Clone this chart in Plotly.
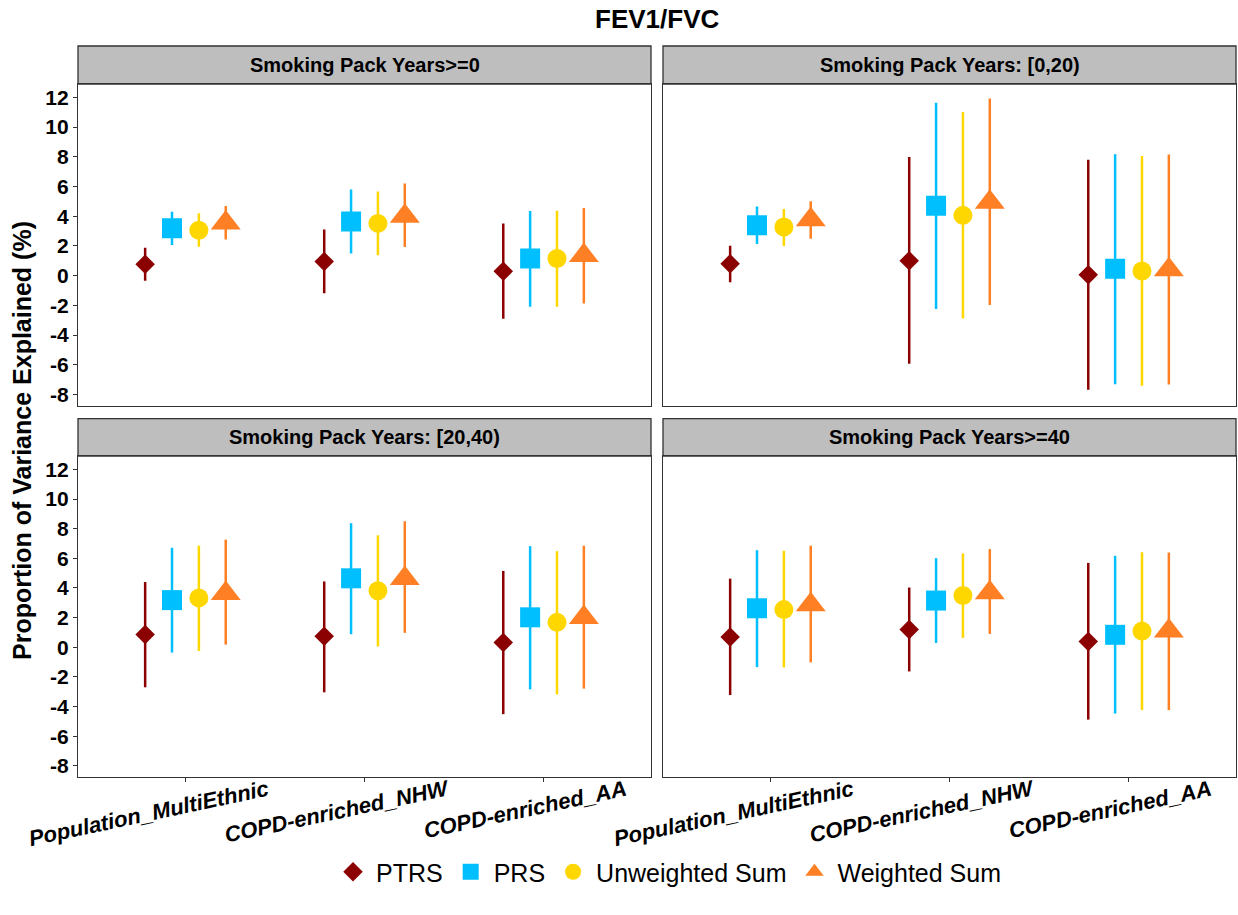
import plotly.graph_objects as go

# ---------------- data ----------------
categories = ["Population_MultiEthnic", "COPD-enriched_NHW", "COPD-enriched_AA"]
panels = ["Smoking Pack Years>=0", "Smoking Pack Years: [0,20)",
          "Smoking Pack Years: [20,40)", "Smoking Pack Years>=40"]
methods = ["PTRS", "PRS", "Unweighted Sum", "Weighted Sum"]

# estimates / lower / upper, per panel, per method, per category
p0_est = {"PTRS": [0.77, 0.95, 0.29], "PRS": [3.20, 3.65, 1.16],
          "Unweighted Sum": [3.06, 3.52, 1.16], "Weighted Sum": [3.54, 4.00, 1.35]}
p0_lo = {"PTRS": [-0.34, -1.18, -2.90], "PRS": [2.06, 1.50, -2.09],
         "Unweighted Sum": [1.95, 1.38, -2.09], "Weighted Sum": [2.43, 1.93, -1.88]}
p0_hi = {"PTRS": [1.88, 3.11, 3.52], "PRS": [4.31, 5.80, 4.35],
         "Unweighted Sum": [4.20, 5.67, 4.37], "Weighted Sum": [4.69, 6.21, 4.56]}

p1_est = {"PTRS": [0.80, 1.00, 0.07], "PRS": [3.40, 4.71, 0.46],
          "Unweighted Sum": [3.27, 4.06, 0.32], "Weighted Sum": [3.76, 4.94, 0.40]}
p1_lo = {"PTRS": [-0.45, -5.92, -7.67], "PRS": [2.13, -2.24, -7.30],
         "Unweighted Sum": [1.99, -2.88, -7.41], "Weighted Sum": [2.49, -1.97, -7.33]}
p1_hi = {"PTRS": [2.02, 7.98, 7.80], "PRS": [4.65, 11.63, 8.18],
         "Unweighted Sum": [4.49, 11.02, 8.05], "Weighted Sum": [5.01, 11.93, 8.16]}

p2_est = {"PTRS": [0.86, 0.75, 0.32], "PRS": [3.18, 4.65, 2.02],
          "Unweighted Sum": [3.33, 3.81, 1.68], "Weighted Sum": [3.62, 4.64, 2.00]}
p2_lo = {"PTRS": [-2.70, -3.04, -4.51], "PRS": [-0.36, 0.88, -2.84],
         "Unweighted Sum": [-0.25, 0.05, -3.18], "Weighted Sum": [0.18, 0.97, -2.79]}
p2_hi = {"PTRS": [4.40, 4.44, 5.15], "PRS": [6.71, 8.37, 6.82],
         "Unweighted Sum": [6.85, 7.55, 6.48], "Weighted Sum": [7.26, 8.50, 6.85]}

p3_est = {"PTRS": [0.70, 1.20, 0.39], "PRS": [2.63, 3.15, 0.84],
          "Unweighted Sum": [2.54, 3.49, 1.09], "Weighted Sum": [2.86, 3.68, 1.10]}
p3_lo = {"PTRS": [-3.22, -1.63, -4.88], "PRS": [-1.34, 0.29, -4.47],
         "Unweighted Sum": [-1.36, 0.63, -4.24], "Weighted Sum": [-1.02, 0.90, -4.24]}
p3_hi = {"PTRS": [4.63, 4.03, 5.69], "PRS": [6.55, 6.01, 6.17],
         "Unweighted Sum": [6.51, 6.33, 6.41], "Weighted Sum": [6.85, 6.62, 6.39]}

panel_est = [p0_est, p1_est, p2_est, p3_est]
panel_lo = [p0_lo, p1_lo, p2_lo, p3_lo]
panel_hi = [p0_hi, p1_hi, p2_hi, p3_hi]

y_tick_vals = [-8, -6, -4, -2, 0, 2, 4, 6, 8, 10, 12]
y_tick_text = ["-8", "-6", "-4", "-2", "0", "2", "4", "6", "8", "10", "12"]

# ---------------- styles ----------------
colors = {"PTRS": "#8B0000", "PRS": "#00BFFF", "Unweighted Sum": "#FFD700", "Weighted Sum": "#FF7F24"}
symbols = {"PTRS": "diamond", "PRS": "square", "Unweighted Sum": "circle", "Weighted Sum": "triangle-up"}
sizes = {"PTRS": 15, "PRS": 20, "Unweighted Sum": 19, "Weighted Sum": 26}

W, H = 1238, 915
FONT = "Liberation Sans, Arial, sans-serif"

def px_x(p):
    return p / W

def px_y(p):
    return 1 - p / H

xdom = [[px_x(78), px_x(651)], [px_x(663), px_x(1236)], [px_x(78), px_x(651)], [px_x(663), px_x(1236)]]
ydom = [[px_y(405.7), px_y(84)], [px_y(405.7), px_y(84)], [px_y(777), px_y(456)], [px_y(777), px_y(456)]]
strip_y = [[px_y(84), px_y(46)], [px_y(84), px_y(46)], [px_y(456), px_y(418.7)], [px_y(456), px_y(418.7)]]

fig = go.Figure()

for i in range(4):
    ax = "" if i == 0 else str(i + 1)
    for m in methods:
        est = panel_est[i][m]
        lo = panel_lo[i][m]
        hi = panel_hi[i][m]
        fig.add_trace(go.Scatter(
            x=categories, y=est, mode="markers",
            name=m, legendgroup=m, showlegend=(i == 0),
            offsetgroup=m,
            xaxis="x" + ax, yaxis="y" + ax,
            marker=dict(symbol=symbols[m], size=sizes[m], color=colors[m], line=dict(width=0)),
            error_y=dict(type="data", symmetric=False,
                         array=[h - e for h, e in zip(hi, est)],
                         arrayminus=[e - l for e, l in zip(est, lo)],
                         color=colors[m], thickness=2.5, width=0),
        ))

layout = dict(
    width=W, height=H, autosize=False,
    margin=dict(l=0, r=0, t=0, b=0, autoexpand=False),
    paper_bgcolor="white", plot_bgcolor="white",
    scattermode="group", scattergap=0.4,
    font=dict(family=FONT, color="black"),
    showlegend=True,
    legend=dict(orientation="h", x=px_x(668), xanchor="center", y=px_y(872), yanchor="middle",
                font=dict(family=FONT, size=25, color="black"), itemsizing="trace",
                itemwidth=36, bgcolor="rgba(0,0,0,0)"),
)

for i in range(4):
    ax = "" if i == 0 else str(i + 1)
    bottom = i >= 2
    left = i in (0, 2)
    layout["xaxis" + ax] = dict(
        domain=xdom[i], anchor="y" + ax, type="category",
        categoryorder="array", categoryarray=categories,
        range=[-0.6, 2.6], showgrid=False, zeroline=False, automargin=False,
        showline=True, mirror=True, linecolor="#333333", linewidth=1.3,
        ticks="outside" if bottom else "", ticklen=4, tickcolor="#333333",
        showticklabels=bottom, tickangle=-12,
        tickfont=dict(family=FONT, size=22, color="black", weight="bold", style="italic"),
        ticklabelshift=82, ticklabelstandoff=-13,
    )
    layout["yaxis" + ax] = dict(
        domain=ydom[i], anchor="x" + ax, range=[-8.75, 12.9],
        showgrid=False, zeroline=False, automargin=False,
        showline=True, mirror=True, linecolor="#333333", linewidth=1.3,
        tickmode="array", tickvals=y_tick_vals, ticktext=y_tick_text,
        ticks="outside" if left else "", ticklen=4, tickcolor="#333333",
        showticklabels=left,
        tickfont=dict(family=FONT, size=21, color="black", weight="bold"),
    )

fig.update_layout(**layout)

shapes = []
annotations = []
for i in range(4):
    shapes.append(dict(type="rect", xref="paper", yref="paper",
                       x0=xdom[i][0], x1=xdom[i][1], y0=strip_y[i][0], y1=strip_y[i][1],
                       fillcolor="#BEBEBE", line=dict(color="#333333", width=1.3), layer="below"))
    annotations.append(dict(xref="paper", yref="paper",
                            x=(xdom[i][0] + xdom[i][1]) / 2, y=(strip_y[i][0] + strip_y[i][1]) / 2,
                            text="<b>" + panels[i] + "</b>", showarrow=False,
                            xanchor="center", yanchor="middle",
                            font=dict(family=FONT, size=20, color="black")))

annotations.append(dict(xref="paper", yref="paper", x=px_x(657), y=px_y(19),
                        text="<b>FEV1/FVC</b>", showarrow=False, xanchor="center", yanchor="middle",
                        font=dict(family=FONT, size=26, color="black")))
annotations.append(dict(xref="paper", yref="paper", x=px_x(22), y=px_y(441),
                        text="<b>Proportion of Variance Explained (%)</b>", showarrow=False,
                        textangle=-90, xanchor="center", yanchor="middle",
                        font=dict(family=FONT, size=25, color="black")))

fig.update_layout(shapes=shapes, annotations=annotations)

fig.write_html("out.html", config={"displayModeBar": False},
               post_script="document.body.style.margin='0';document.body.style.overflow='hidden';")
